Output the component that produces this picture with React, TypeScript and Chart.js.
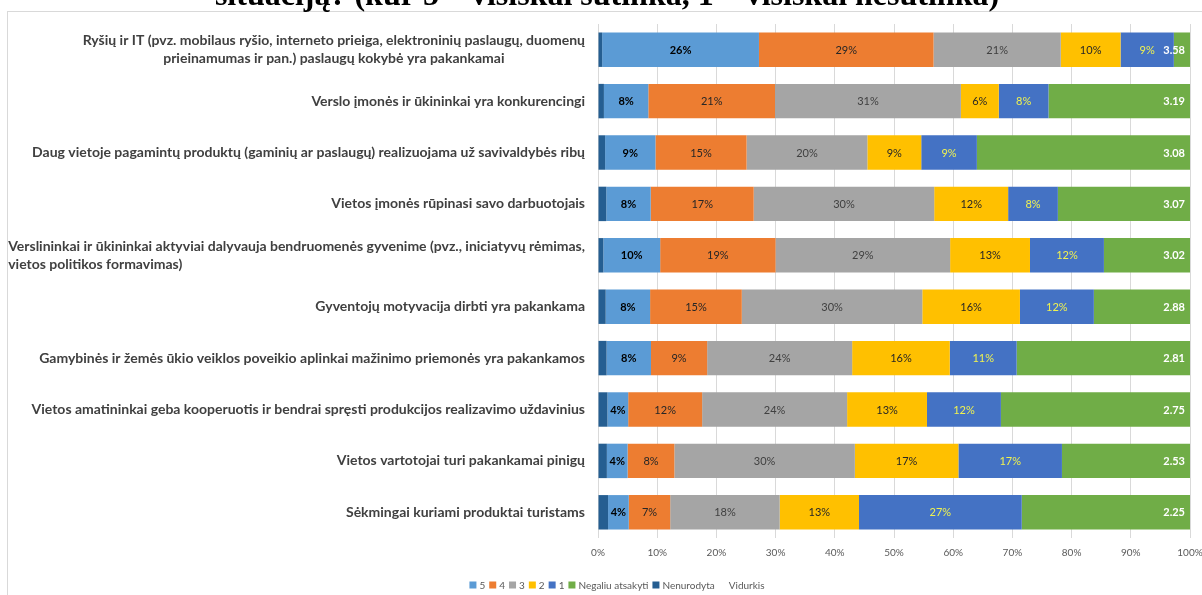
import { useEffect, useRef } from "react";
import { Chart, registerables } from "chart.js";

Chart.register(...registerables);

const titleText = "situaciją? (kur 5 – visiškai sutinka, 1 – visiškai nesutinka)";

const categories: string[][] = [
  ["Ryšių ir IT (pvz. mobilaus ryšio, interneto prieiga, elektroninių paslaugų, duomenų", "prieinamumas ir pan.) paslaugų kokybė yra pakankamai"],
  ["Verslo įmonės ir ūkininkai yra konkurencingi"],
  ["Daug vietoje pagamintų produktų (gaminių ar paslaugų) realizuojama už savivaldybės ribų"],
  ["Vietos įmonės rūpinasi savo darbuotojais"],
  ["Verslininkai ir ūkininkai aktyviai dalyvauja bendruomenės gyvenime (pvz., iniciatyvų rėmimas,", "vietos politikos formavimas)"],
  ["Gyventojų motyvacija dirbti yra pakankama"],
  ["Gamybinės ir žemės ūkio veiklos poveikio aplinkai mažinimo priemonės yra pakankamos"],
  ["Vietos amatininkai geba kooperuotis ir bendrai spręsti produkcijos realizavimo uždavinius"],
  ["Vietos vartotojai turi pakankamai pinigų"],
  ["Sėkmingai kuriami produktai turistams"],
];

const nenurodyta = [0.7, 1.0, 1.2, 1.4, 0.9, 1.3, 1.45, 1.6, 1.5, 1.7];
const s5 = [26.49, 7.5, 8.5, 7.5, 9.6, 7.5, 7.5, 3.5, 3.5, 3.5];
const s4 = [29.49, 21.4, 15.4, 17.4, 19.49, 15.49, 9.49, 12.49, 7.9, 7.0];
const s3 = [21.49, 31.4, 20.4, 30.49, 29.49, 30.49, 24.49, 24.49, 30.49, 18.49];
const s2 = [10.1, 6.4, 9.1, 12.49, 13.49, 16.49, 16.49, 13.49, 17.49, 13.4];
const s1 = [9.0, 8.4, 9.4, 8.4, 12.49, 12.49, 11.3, 12.49, 17.49, 27.49];
const negaliu = [2.73, 23.9, 36.0, 22.32, 14.54, 16.24, 29.28, 31.94, 21.63, 28.42];
const vidurkis = [3.58, 3.19, 3.08, 3.07, 3.02, 2.88, 2.81, 2.75, 2.53, 2.25];

const xTicks = [0, 10, 20, 30, 40, 50, 60, 70, 80, 90, 100];

const FONT = "Lato, 'Open Sans', 'Liberation Sans', Arial, sans-serif";

const C_NEN = "#255E91";
const C5 = "#5B9BD5";
const C4 = "#ED7D31";
const C3 = "#A5A5A5";
const C2 = "#FFC000";
const C1 = "#4472C4";
const CNEG = "#70AD47";

export default function App() {
  const ref = useRef<HTMLCanvasElement | null>(null);

  useEffect(() => {
    const canvas = ref.current;
    if (!canvas) return;

    const custom = {
      id: "customDraw",
      beforeDraw(chart: any) {
        const ctx = chart.ctx;
        ctx.save();
        ctx.fillStyle = "#ffffff";
        ctx.fillRect(0, 0, chart.width, chart.height);
        ctx.strokeStyle = "#d9d9d9";
        ctx.lineWidth = 1;
        ctx.strokeRect(7.5, 11.5, 1400, 800);
        ctx.fillStyle = "#000000";
        ctx.font = "bold 32px 'Liberation Serif', 'Times New Roman', serif";
        ctx.textAlign = "center";
        ctx.textBaseline = "alphabetic";
        ctx.fillText(titleText, 607, 5);
        ctx.restore();
      },
      afterDatasetsDraw(chart: any) {
        const ctx = chart.ctx;
        ctx.save();
        ctx.textAlign = "center";
        ctx.textBaseline = "middle";
        const styles: { [k: number]: { color: string; bold: boolean } } = {
          1: { color: "#000000", bold: true },
          2: { color: "#262626", bold: false },
          3: { color: "#404040", bold: false },
          4: { color: "#262626", bold: false },
          5: { color: "#F0F250", bold: false },
        };
        for (let di = 1; di <= 5; di++) {
          const meta = chart.getDatasetMeta(di);
          const data = chart.data.datasets[di].data as number[];
          const st = styles[di];
          ctx.font = (st.bold ? "bold " : "") + "11px " + FONT;
          ctx.fillStyle = st.color;
          meta.data.forEach((el: any, i: number) => {
            const cx = (el.x + el.base) / 2;
            ctx.fillText(Math.round(data[i]) + "%", cx, el.y + 0.5);
          });
        }
        const metaNeg = chart.getDatasetMeta(6);
        ctx.font = "bold 11px " + FONT;
        ctx.fillStyle = "#ffffff";
        ctx.textAlign = "right";
        metaNeg.data.forEach((el: any, i: number) => {
          ctx.fillText(vidurkis[i].toFixed(2), el.x - 5, el.y + 0.5);
        });
        ctx.restore();
      },
      afterDraw(chart: any) {
        const ctx = chart.ctx;
        const yScale = chart.scales.y;
        ctx.save();
        ctx.font = "bold 14px " + FONT;
        ctx.fillStyle = "#404040";
        ctx.textBaseline = "middle";
        const right = 585;
        const lineH = 18;
        categories.forEach((lines, i) => {
          const yc = yScale.getPixelForValue(i);
          const widths = lines.map((l) => ctx.measureText(l).width);
          const blockW = Math.max(...widths);
          const y0 = yc - ((lines.length - 1) * lineH) / 2;
          lines.forEach((l, k) => {
            const y = y0 + k * lineH;
            if (lines.length === 1) {
              ctx.textAlign = "right";
              ctx.fillText(l, right, y);
            } else if (blockW >= 560) {
              ctx.textAlign = "left";
              ctx.fillText(l, right - blockW, y);
            } else {
              ctx.textAlign = "center";
              ctx.fillText(l, right - blockW / 2, y);
            }
          });
        });
        const items = [
          { t: "5", c: C5 },
          { t: "4", c: C4 },
          { t: "3", c: C3 },
          { t: "2", c: C2 },
          { t: "1", c: C1 },
          { t: "Negaliu atsakyti", c: CNEG },
          { t: "Nenurodyta", c: C_NEN },
          { t: "Vidurkis", c: "" },
        ];
        ctx.font = "10px " + FONT;
        ctx.textAlign = "left";
        ctx.textBaseline = "middle";
        const box = 7;
        const gapBT = 3;
        const gapItem = 4;
        const ws = items.map((it) => box + gapBT + ctx.measureText(it.t).width);
        const total = ws.reduce((a, b) => a + b, 0) + gapItem * (items.length - 1);
        let x = 617 - total / 2;
        const ly = 585;
        items.forEach((it, k) => {
          if (it.c) {
            ctx.fillStyle = it.c;
            ctx.fillRect(x, ly - box / 2, box, box);
          }
          ctx.fillStyle = "#595959";
          ctx.fillText(it.t, x + box + gapBT, ly + 0.5);
          x += ws[k] + gapItem;
        });
        ctx.restore();
      },
    };

    const mk = (label: string, data: number[], color: string) => ({
      label,
      data,
      backgroundColor: color,
      borderWidth: 0,
      barPercentage: 0.67,
      categoryPercentage: 1.0,
    });

    const chart = new Chart(canvas, {
      type: "bar",
      data: {
        labels: categories.map((c) => c.join(" ")),
        datasets: [
          mk("Nenurodyta", nenurodyta, C_NEN),
          mk("5", s5, C5),
          mk("4", s4, C4),
          mk("3", s3, C3),
          mk("2", s2, C2),
          mk("1", s1, C1),
          mk("Negaliu atsakyti", negaliu, CNEG),
        ],
      },
      options: {
        indexAxis: "y",
        animation: false,
        responsive: false,
        devicePixelRatio: 1,
        layout: { autoPadding: false, padding: { left: 598, right: 12, top: 24, bottom: 27 } },
        plugins: {
          legend: { display: false },
          tooltip: { enabled: false },
          title: { display: false },
        },
        scales: {
          x: {
            stacked: true,
            min: 0,
            max: 100,
            afterBuildTicks: (scale: any) => {
              scale.ticks = xTicks.map((v) => ({ value: v }));
            },
            afterFit: (scale: any) => {
              scale.paddingLeft = 0;
              scale.paddingRight = 0;
            },
            ticks: {
              callback: (v: any) => v + "%",
              color: "#595959",
              font: { size: 10, family: FONT },
              padding: 9,
              maxRotation: 0,
              autoSkip: false,
            },
            grid: { color: "#d9d9d9", lineWidth: 1, drawTicks: false },
            border: { display: false },
          },
          y: {
            stacked: true,
            display: false,
          },
        },
      },
      plugins: [custom],
    });

    return () => {
      chart.destroy();
    };
  }, []);

  return (
    <div style={{ position: "fixed", left: 0, top: 0, width: 1202, height: 595, overflow: "hidden", background: "#fff" }}>
      <canvas ref={ref} width={1202} height={595} style={{ width: 1202, height: 595, display: "block" }} />
    </div>
  );
}
